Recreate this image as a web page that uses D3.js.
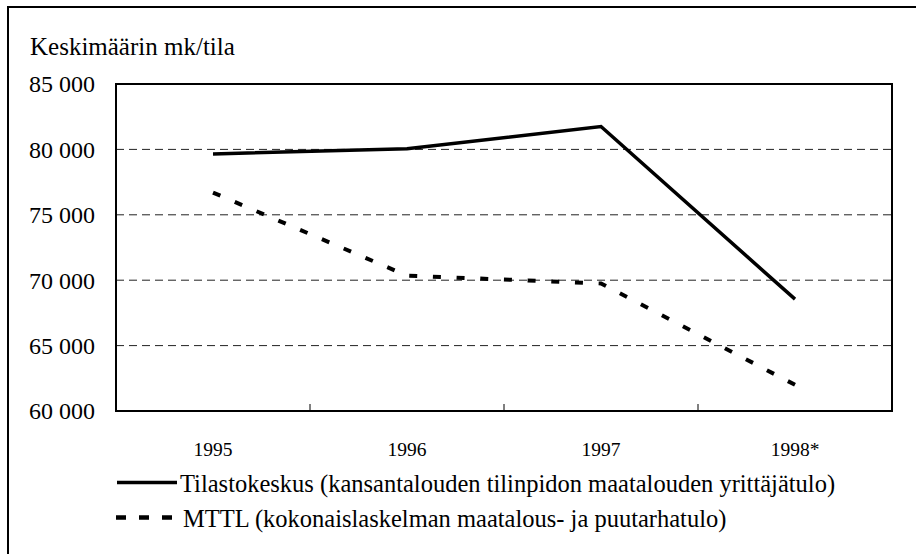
<!DOCTYPE html>
<html>
<head>
<meta charset="utf-8">
<script src="https://cdn.jsdelivr.net/npm/d3@7"></script>
<style>
  body { margin: 0; background: #fff; }
</style>
</head>
<body>
<div id="chart"></div>
<script>
// data
var years = ["1995", "1996", "1997", "1998*"];
var tilastokeskus = [79650, 80050, 81750, 68550];
var mttl = [76700, 70350, 69750, 62000];
var yTicks = [60000, 65000, 70000, 75000, 80000, 85000];
var seriesNames = [
  "Tilastokeskus (kansantalouden tilinpidon maatalouden yrittäjätulo)",
  "MTTL (kokonaislaskelman maatalous- ja puutarhatulo)"
];

var width = 916, height = 554;
var margin = { left: 116, top: 84, right: 24, bottom: 143 }; // plot box 116..892 x 84..411
var serif = "'Liberation Serif'";

var svg = d3.select('#chart').append('svg')
  .attr('width', width)
  .attr('height', height);

// outer frame, runs off the right/bottom edge like the original
svg.append('rect')
  .attr('x', 8).attr('y', 7)
  .attr('width', 940).attr('height', 600)
  .attr('fill', 'none')
  .attr('stroke', '#000')
  .attr('stroke-width', 2);

var x = d3.scaleBand()
  .domain(years)
  .range([margin.left, width - margin.right]);

var y = d3.scaleLinear()
  .domain([60000, 85000])
  .range([height - margin.bottom, margin.top]);

var fmt = function(v) { return d3.format(',')(v).replace(',', ' '); };

// dashed gridlines
svg.append('g')
  .selectAll('line')
  .data(yTicks.filter(function(d) { return d > 60000 && d < 85000; }))
  .enter().append('line')
  .attr('x1', margin.left).attr('x2', width - margin.right)
  .attr('y1', function(d) { return y(d); })
  .attr('y2', function(d) { return y(d); })
  .attr('stroke', '#222')
  .attr('stroke-width', 1)
  .attr('stroke-dasharray', '8,5');

// y labels
svg.append('g')
  .selectAll('text')
  .data(yTicks)
  .enter().append('text')
  .attr('x', 95)
  .attr('y', function(d) { return y(d); })
  .attr('dy', '0.35em')
  .attr('text-anchor', 'end')
  .style('font-family', serif)
  .style('font-size', '24px')
  .text(fmt);

// x tick marks inside, at band boundaries
svg.append('g')
  .selectAll('line')
  .data(years.slice(1))
  .enter().append('line')
  .attr('x1', function(d) { return x(d); })
  .attr('x2', function(d) { return x(d); })
  .attr('y1', y(60000))
  .attr('y2', y(60000) - 7)
  .attr('stroke', '#000')
  .attr('stroke-width', 1);

// x labels
svg.append('g')
  .selectAll('text')
  .data(years)
  .enter().append('text')
  .attr('x', function(d) { return x(d) + x.bandwidth() / 2; })
  .attr('y', 456)
  .attr('text-anchor', 'middle')
  .style('font-family', serif)
  .style('font-size', '19.5px')
  .text(function(d) { return d; });

// plot box
svg.append('rect')
  .attr('x', margin.left).attr('y', margin.top)
  .attr('width', width - margin.left - margin.right)
  .attr('height', height - margin.top - margin.bottom)
  .attr('fill', 'none')
  .attr('stroke', '#000')
  .attr('stroke-width', 2);

// axis title
svg.append('text')
  .attr('x', 30).attr('y', 55)
  .style('font-family', serif)
  .style('font-size', '25px')
  .text('Keskimäärin mk/tila');

var line = d3.line()
  .x(function(d, i) { return x(years[i]) + x.bandwidth() / 2; })
  .y(function(d) { return y(d); });

svg.append('path')
  .datum(tilastokeskus)
  .attr('d', line)
  .attr('fill', 'none')
  .attr('stroke', '#000')
  .attr('stroke-width', 3.5);

var dashed = svg.append('path')
  .datum(mttl)
  .attr('d', line)
  .attr('fill', 'none')
  .attr('stroke', '#000')
  .attr('stroke-width', 4);

// stretch the gap a little so the pattern starts and ends on a dash
var len = dashed.node().getTotalLength();
var dash = 8;
var n = Math.round((len - dash) / 24);
dashed.attr('stroke-dasharray', dash + ',' + ((len - dash) / n - dash));

// legend
var legend = svg.selectAll('.legend')
  .data(seriesNames)
  .enter().append('g')
  .attr('class', 'legend')
  .attr('transform', function(d, i) { return 'translate(0,' + (482.5 + i * 35) + ')'; });

legend.append('line')
  .attr('x1', function(d, i) { return i === 0 ? 117 : 116; })
  .attr('x2', function(d, i) { return i === 0 ? 177 : 173; })
  .attr('y1', 0).attr('y2', 0)
  .attr('stroke', '#000')
  .attr('stroke-width', function(d, i) { return i === 0 ? 3.5 : 4.5; })
  .attr('stroke-dasharray', function(d, i) { return i === 0 ? null : '10,13'; });

legend.append('text')
  .attr('x', function(d, i) { return i === 0 ? 180 : 183; })
  .attr('y', 9)
  .style('font-family', serif)
  .style('font-size', '24.5px')
  .text(function(d) { return d; });
</script>
</body>
</html>
